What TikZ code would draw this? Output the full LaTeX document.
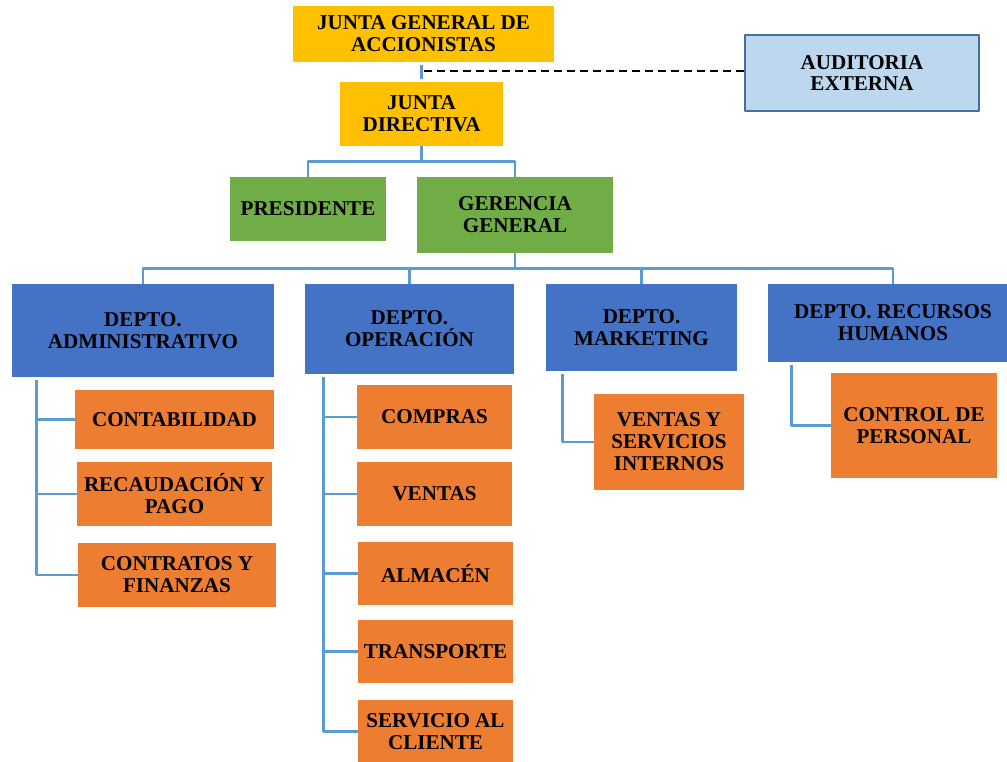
\documentclass[tikz,border=0pt]{standalone}
\usepackage{fontspec}
\setmainfont{Liberation Serif}
\definecolor{cAma}{HTML}{FFC000}
\definecolor{cVer}{HTML}{70AD47}
\definecolor{cAzu}{HTML}{4472C4}
\definecolor{cNar}{HTML}{ED7D31}
\definecolor{cCel}{HTML}{BDD7EE}
\definecolor{cBor}{HTML}{41719C}
\definecolor{cLin}{HTML}{5B9BD5}
\tikzset{
  caja/.style={inner sep=1pt, align=center, font=\fontsize{12}{12.5}\selectfont\bfseries},
  amarillo/.style={caja, fill=cAma},
  verde/.style={caja, fill=cVer},
  azul/.style={caja, fill=cAzu},
  naranja/.style={caja, fill=cNar},
  celeste/.style={caja, fill=cCel, draw=cBor, line width=1.1pt},
  conn/.style={draw=cLin, line width=1.5pt},
  punteado/.style={draw=black, line width=1.2pt, dash pattern=on 0.16cm off 0.1cm}
}
\begin{document}
\begin{tikzpicture}[x=0.02cm, y=-0.02cm, line join=round]
\useasboundingbox (0,0) rectangle (1007,761);
\clip (0,0) rectangle (1007,761);
% cajas: nombre/estilo/x1/y1/x2/y2/texto (en pixeles)
\foreach \n/\e/\xa/\ya/\xb/\yb/\t in {
  jga/amarillo/293/6/554/62/{JUNTA GENERAL DE\\ACCIONISTAS},
  aud/celeste/745/35/979/111/{AUDITORIA\\EXTERNA},
  jd/amarillo/340/82/503/146/{JUNTA\\DIRECTIVA},
  pres/verde/230/177/386/241/{PRESIDENTE},
  ger/verde/417/177/613/253/{GERENCIA\\GENERAL},
  dadm/azul/12/284/274/377/{DEPTO.\\ADMINISTRATIVO},
  dope/azul/305/284/514/374/{DEPTO.\\OPERACIÓN},
  dmkt/azul/546/284/737/371/{DEPTO.\\MARKETING},
  drh/azul/768/284/1018/362/{DEPTO. RECURSOS\\HUMANOS},
  cont/naranja/75/390/274/449/{CONTABILIDAD},
  reca/naranja/77/462/272/526/{RECAUDACIÓN Y\\PAGO},
  cfin/naranja/78/543/276/607/{CONTRATOS Y\\FINANZAS},
  comp/naranja/357/385/512/449/{COMPRAS},
  vent/naranja/357/462/512/526/{VENTAS},
  alma/naranja/358/542/513/605/{ALMACÉN},
  tran/naranja/358/620/513/683/{TRANSPORTE},
  scli/naranja/358/700/513/763/{SERVICIO AL\\CLIENTE},
  vsi/naranja/594/394/744/490/{VENTAS Y\\SERVICIOS\\INTERNOS},
  cper/naranja/831/373/997/478/{CONTROL DE\\PERSONAL}}{
  \node[\e, minimum width={(\xb-\xa)*0.02cm}, minimum height={(\yb-\ya)*0.02cm}]
    (\n) at ({(\xa+\xb)/2},{(\ya+\yb)/2}) {\t};}
% lineas
\draw[conn] ([yshift=-0.06cm]jga.south -| jd.north) -- ([yshift=0.06cm]jd.north);
\draw[punteado] (aud.west) ++(0,-2) -- ++(-322,0);
\draw[conn] (jd.south) -- ++(0,15) coordinate (r1);
\draw[conn] (pres.north) |- (r1) -| (ger.north);
\draw[conn] (ger.south) -- ++(0,15) coordinate (r2);
\draw[conn] (dadm.north) |- (r2) -| (drh.north);
\draw[conn] (dope.north) |- (r2);
\draw[conn] (dmkt.north) |- (r2);
\coordinate (a0) at ([xshift=0.5cm,yshift=-0.06cm]dadm.south west);
\coordinate (o0) at ([xshift=0.38cm,yshift=-0.06cm]dope.south west);
\coordinate (m0) at ([xshift=0.34cm,yshift=-0.06cm]dmkt.south west);
\coordinate (h0) at ([xshift=0.48cm,yshift=-0.06cm]drh.south west);
\foreach \c in {cont, reca, cfin}{\draw[conn] (a0) |- (\c.west);}
\foreach \c in {comp, vent, alma, tran, scli}{\draw[conn] (o0) |- (\c.west);}
\draw[conn] (m0) |- (vsi.west);
\draw[conn] (h0) |- (cper.west);
\end{tikzpicture}
\end{document}
